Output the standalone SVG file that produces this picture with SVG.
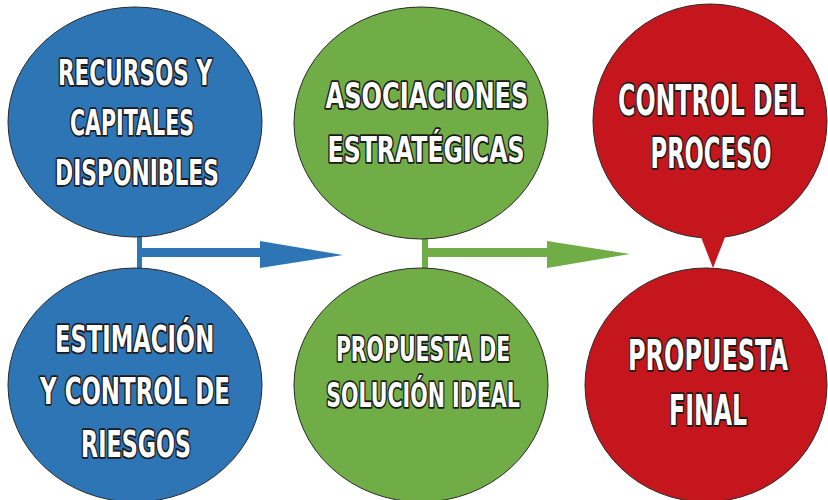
<svg xmlns="http://www.w3.org/2000/svg" width="828" height="500" viewBox="0 0 828 500">
<style>
.bg{fill:#ffffff}
.blue{fill:#2E75B6;stroke:#2a2a2a;stroke-width:1}
.green{fill:#70AD47;stroke:#2a2a2a;stroke-width:1}
.red{fill:#C4161C;stroke:#2a2a2a;stroke-width:1}
.redf{fill:#C4161C}
.bluef{fill:#2E75B6}
.greenf{fill:#70AD47}
text{font-family:"DejaVu Sans Condensed","Liberation Sans Narrow","Liberation Sans",sans-serif;font-weight:bold;fill:#ffffff;stroke:#1a1a1a;stroke-width:3.6;paint-order:stroke;stroke-linejoin:round;text-anchor:middle}
.s35{font-size:35px}
.s37{font-size:37px}
.s34{font-size:34px}
.s42{font-size:42px}
</style>
<rect class="bg" x="0" y="0" width="828" height="500"/>
<g id="connectors">
  <rect class="bluef" x="137" y="236" width="5" height="33"/>
  <rect class="bluef" x="141" y="248" width="121" height="9"/>
  <polygon class="bluef" points="260,241 343,255 260,268"/>
  <rect class="greenf" x="422" y="237" width="6" height="32"/>
  <rect class="greenf" x="427" y="248" width="122" height="9"/>
  <polygon class="greenf" points="547,241 630,254 547,268"/>
</g>
<g id="node-recursos">
  <ellipse class="blue" cx="135" cy="122" rx="127" ry="115"/>
  <text class="s35" transform="translate(135,85) scale(0.65,1)" x="0" y="0" textLength="237" lengthAdjust="spacingAndGlyphs">RECURSOS Y</text>
  <text class="s35" transform="translate(132,135) scale(0.65,1)" x="0" y="0" textLength="191" lengthAdjust="spacingAndGlyphs">CAPITALES</text>
  <text class="s35" transform="translate(137,185) scale(0.65,1)" x="0" y="0" textLength="252" lengthAdjust="spacingAndGlyphs">DISPONIBLES</text>
</g>
<g id="node-estimacion">
  <ellipse class="blue" cx="135" cy="385" rx="127" ry="117"/>
  <text class="s37" transform="translate(134.5,352) scale(0.65,1)" x="0" y="0" textLength="245" lengthAdjust="spacingAndGlyphs">ESTIMACIÓN</text>
  <text class="s37" transform="translate(135,404) scale(0.65,1)" x="0" y="0" textLength="292" lengthAdjust="spacingAndGlyphs">Y CONTROL DE</text>
  <text class="s37" transform="translate(136,457) scale(0.65,1)" x="0" y="0" textLength="169" lengthAdjust="spacingAndGlyphs">RIESGOS</text>
</g>
<g id="node-asociaciones">
  <ellipse class="green" cx="421" cy="123" rx="127" ry="116"/>
  <text class="s35" transform="translate(427,108) scale(0.65,1)" x="0" y="0" textLength="312" lengthAdjust="spacingAndGlyphs">ASOCIACIONES</text>
  <text class="s35" transform="translate(426,162) scale(0.65,1)" x="0" y="0" textLength="303" lengthAdjust="spacingAndGlyphs">ESTRATÉGICAS</text>
</g>
<g id="node-propuesta-ideal">
  <ellipse class="green" cx="421" cy="385" rx="127" ry="117"/>
  <text class="s34" transform="translate(423,361) scale(0.65,1)" x="0" y="0" textLength="268" lengthAdjust="spacingAndGlyphs">PROPUESTA DE</text>
  <text class="s34" transform="translate(423,407) scale(0.65,1)" x="0" y="0" textLength="298" lengthAdjust="spacingAndGlyphs">SOLUCIÓN IDEAL</text>
</g>
<g id="node-control">
  <ellipse class="red" cx="710" cy="121" rx="117" ry="117"/>
  <polygon class="redf" points="699,232 727,232 713,268"/>
  <text class="s42" transform="translate(711,115) scale(0.65,1)" x="0" y="0" textLength="286" lengthAdjust="spacingAndGlyphs">CONTROL DEL</text>
  <text class="s42" transform="translate(711,168) scale(0.65,1)" x="0" y="0" textLength="186" lengthAdjust="spacingAndGlyphs">PROCESO</text>
</g>
<g id="node-propuesta-final">
  <ellipse class="red" cx="706" cy="385" rx="121" ry="117"/>
  <text class="s42" transform="translate(708,370) scale(0.65,1)" x="0" y="0" textLength="246" lengthAdjust="spacingAndGlyphs">PROPUESTA</text>
  <text class="s42" transform="translate(708,425) scale(0.65,1)" x="0" y="0" textLength="120" lengthAdjust="spacingAndGlyphs">FINAL</text>
</g>
</svg>
